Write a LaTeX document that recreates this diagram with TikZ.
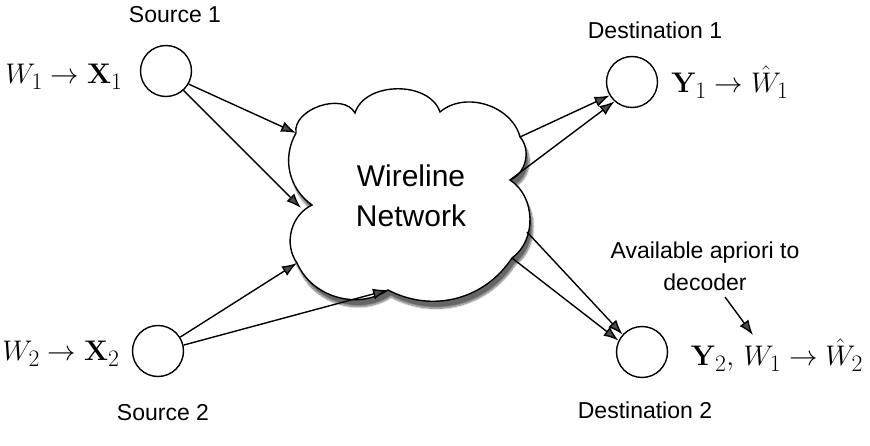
\documentclass[tikz,border=0pt]{standalone}
\usepackage[no-math]{fontspec}
\newfontfamily\hv{Liberation Sans}
\usetikzlibrary{arrows.meta,shadows.blur}
\newcommand{\bigmath}[1]{\scalebox{1.14}{\Huge $#1$}}
\begin{document}
\begin{tikzpicture}[x=1pt,y=-1pt,
  lbl/.style={font=\hv\fontsize{23}{30}\selectfont, inner sep=0pt},
  mlbl/.style={inner sep=0pt},
  nd/.style={circle, draw, line width=1.4pt, minimum size=51pt, inner sep=0pt},
  arr/.style={line width=1.4pt, -{Latex[length=15pt,width=11pt]}},
  cldline/.style={draw, line width=1.4pt, fill=white,
    blur shadow={shadow xshift=3pt, shadow yshift=-7pt, shadow blur steps=14, shadow opacity=60}}
]
\useasboundingbox (0,0) rectangle (870,446);

% cloud outline
\coordinate (p0) at (312,205);
\coordinate (p1) at (296,133);
\coordinate (p2) at (355,113);
\coordinate (p3) at (440,112);
\coordinate (p4) at (520,137);
\coordinate (p5) at (510,180);
\coordinate (p6) at (512,258);
\coordinate (p7) at (388,290);
\coordinate (p8) at (297,263);
\path[cldline] (p0) to[bend left=42] (p1) to[bend left=80] (p2) to[bend left=72]
  (p3) to[bend left=58] (p4) to[bend left=55] (p5) to[bend left=56] (p6)
  to[bend left=42] (p7) to[bend left=50] (p8) to[bend left=50] (p0) -- cycle;
\node[font=\hv\fontsize{30}{40}\selectfont, align=center, inner sep=0pt] (cl) at (411,196) {Wireline\\Network};

\node[nd] (s1) at (166,71) {};
\node[nd] (s2) at (158,351) {};
\node[nd] (d1) at (632,82) {};
\node[nd] (d2) at (642,352) {};

\node[lbl] (ts1) at (175,15) {Source 1};
\node[lbl] (ts2) at (163,413) {Source 2};
\node[lbl] (td1) at (655,30) {Destination 1};
\node[lbl] (td2) at (645,410) {Destination 2};
\node[lbl, align=center, font=\hv\fontsize{23}{32}\selectfont] (av) at (705,266) {Available apriori to\\decoder};

\node[mlbl] (m1) at (64,77) {\bigmath{W_1 \to \mathbf{X}_1}};
\node[mlbl] (m2) at (61,354) {\bigmath{W_2 \to \mathbf{X}_2}};
\node[mlbl] (m3) at (730,82) {\bigmath{\mathbf{Y}_1 \to \hat{W}_1}};
\node[mlbl] (m4) at (777,355) {\bigmath{\mathbf{Y}_2,\, W_1 \to \hat{W}_2}};

\coordinate (c1) at (p1);
\coordinate (c2) at (301,208);
\coordinate (c3) at (p8);
\coordinate (c4) at (p7);
\coordinate (c5) at (p4);
\coordinate (c6) at (p5);
\coordinate (c7) at (527,232);
\coordinate (c8) at (p6);
\coordinate (a1) at (725,297);
\coordinate (a2) at (753,335);

\draw[arr] (s1.-30) -- (c1);
\draw[arr] (s1.-48) -- (c2);
\draw[arr] (s2.32) -- (c3);
\draw[arr] (s2.13) -- (c4);
\draw[arr] (c5) -- (d1.-149);
\draw[arr] (c6) -- (d1.-132);
\draw[arr] (c7) -- (d2.138);
\draw[arr] (c8) -- (d2.154);
\draw[arr] (a1) -- (a2);
\end{tikzpicture}
\end{document}
